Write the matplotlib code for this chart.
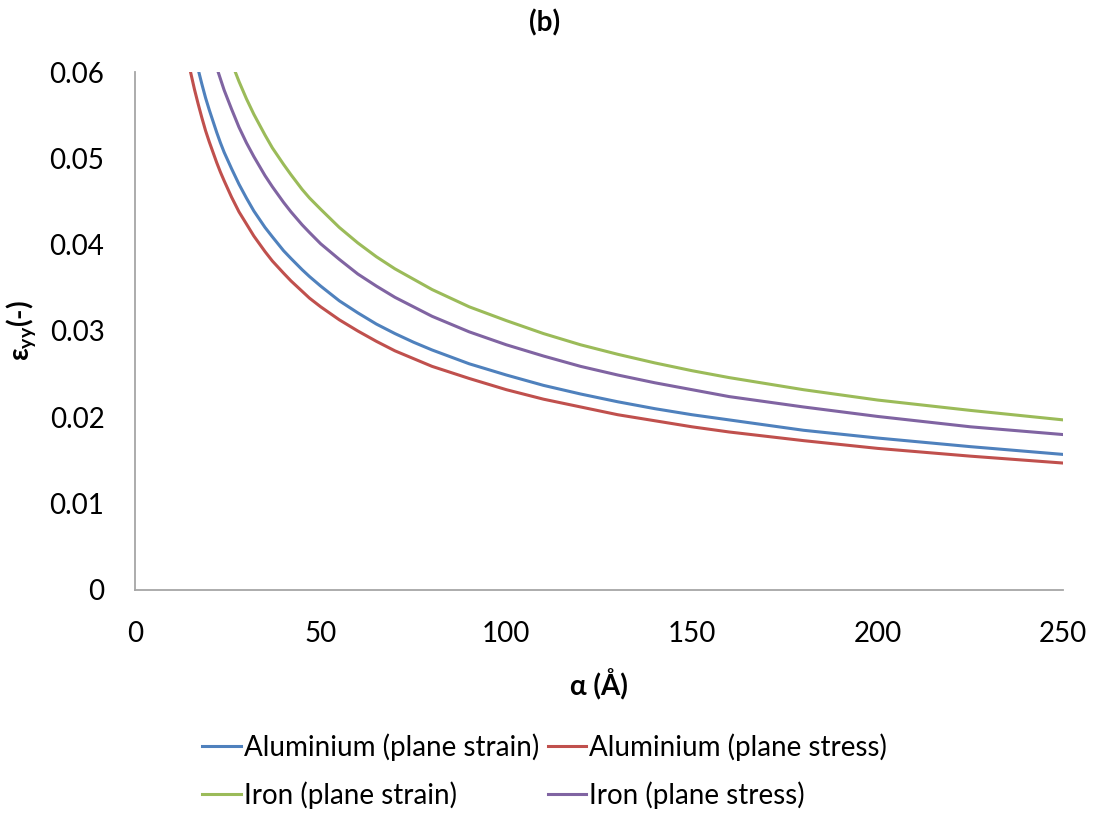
import matplotlib
matplotlib.use("Agg")
import matplotlib.pyplot as plt

plt.rcParams['font.family'] = ['Lato', 'DejaVu Sans']
plt.rcParams['mathtext.default'] = 'regular'

# radius alpha (Angstrom) and strain values
alpha = [10, 12, 14, 15, 16, 17, 18, 19, 20, 22, 23, 24, 26, 28, 30, 32, 35,
         37, 40, 42, 45, 47, 50, 55, 60, 65, 70, 75, 80, 90, 100, 110, 120,
         130, 140, 150, 160, 180, 200, 225, 250]

al_strain = [0.0786, 0.0718, 0.0664, 0.0642, 0.0621, 0.0603, 0.0586, 0.0570,
             0.0556, 0.0530, 0.0518, 0.0507, 0.0488, 0.0470, 0.0454, 0.0439,
             0.0420, 0.0409, 0.0393, 0.0384, 0.0371, 0.0363, 0.0352, 0.0335,
             0.0321, 0.0308, 0.0297, 0.0287, 0.0278, 0.0262, 0.0249, 0.0237,
             0.0227, 0.0218, 0.0210, 0.0203, 0.0197, 0.0185, 0.0176, 0.0166,
             0.0157]
al_stress = [0.0734, 0.0670, 0.0620, 0.0599, 0.0580, 0.0563, 0.0547, 0.0532,
             0.0519, 0.0495, 0.0484, 0.0474, 0.0455, 0.0438, 0.0424, 0.0410,
             0.0392, 0.0381, 0.0367, 0.0358, 0.0346, 0.0338, 0.0328, 0.0313,
             0.0300, 0.0288, 0.0277, 0.0268, 0.0259, 0.0245, 0.0232, 0.0221,
             0.0212, 0.0203, 0.0196, 0.0189, 0.0183, 0.0173, 0.0164, 0.0155,
             0.0147]
fe_strain = [0.0985, 0.0899, 0.0833, 0.0804, 0.0779, 0.0756, 0.0734, 0.0715,
             0.0697, 0.0664, 0.0650, 0.0636, 0.0611, 0.0589, 0.0569, 0.0551,
             0.0527, 0.0512, 0.0493, 0.0481, 0.0464, 0.0454, 0.0441, 0.0420,
             0.0402, 0.0386, 0.0372, 0.0360, 0.0348, 0.0328, 0.0312, 0.0297,
             0.0284, 0.0273, 0.0263, 0.0254, 0.0246, 0.0232, 0.0220, 0.0208,
             0.0197]
fe_stress = [0.0897, 0.0819, 0.0758, 0.0733, 0.0710, 0.0688, 0.0669, 0.0651,
             0.0635, 0.0605, 0.0592, 0.0579, 0.0557, 0.0536, 0.0518, 0.0502,
             0.0480, 0.0467, 0.0449, 0.0438, 0.0423, 0.0414, 0.0401, 0.0383,
             0.0366, 0.0352, 0.0339, 0.0328, 0.0317, 0.0299, 0.0284, 0.0271,
             0.0259, 0.0249, 0.0240, 0.0232, 0.0224, 0.0212, 0.0201, 0.0189,
             0.0180]

x_ticks = [0, 50, 100, 150, 200, 250]
y_ticks = [0, 0.01, 0.02, 0.03, 0.04, 0.05, 0.06]
y_labels = ['0', '0.01', '0.02', '0.03', '0.04', '0.05', '0.06']

fig = plt.figure(figsize=(10.96, 8.21), dpi=100)
ax = fig.add_axes([0.1232, 0.2814, 0.8470, 0.6309])

lw = 2.2
l1, = ax.plot(alpha, al_strain, color='#4F81BD', lw=lw, label='Aluminium (plane strain)')
l2, = ax.plot(alpha, al_stress, color='#C0504D', lw=lw, label='Aluminium (plane stress)')
l3, = ax.plot(alpha, fe_strain, color='#9BBB59', lw=lw, label='Iron (plane strain)')
l4, = ax.plot(alpha, fe_stress, color='#8064A2', lw=lw, label='Iron (plane stress)')

ax.set_xlim(0, 250)
ax.set_ylim(0, 0.06)
ax.set_xticks(x_ticks)
ax.set_yticks(y_ticks)
ax.set_yticklabels(y_labels)
ax.tick_params(length=0, labelsize=20, pad=22)
ax.tick_params(axis='x', pad=22)
for side in ['top', 'right']:
    ax.spines[side].set_visible(False)
for side in ['left', 'bottom']:
    ax.spines[side].set_color('#A6A6A6')
    ax.spines[side].set_linewidth(1.3)

ax.set_xlabel('α (Å)', fontsize=20, fontweight='bold', labelpad=16)
ax.set_ylabel(r'ε$_{yy}$(-)', fontsize=20, fontweight='bold', labelpad=8)

fig.text(0.497, 0.972, '(b)', ha='center', va='center', fontsize=20, fontweight='bold')

fig.legend(handles=[l1, l3, l2, l4], ncol=2, loc='center',
           bbox_to_anchor=(0.497, 0.061), frameon=False, fontsize=20,
           handlelength=1.4, handletextpad=0.1, columnspacing=0.3,
           labelspacing=0.75)

fig.savefig('out.png', dpi=100)
